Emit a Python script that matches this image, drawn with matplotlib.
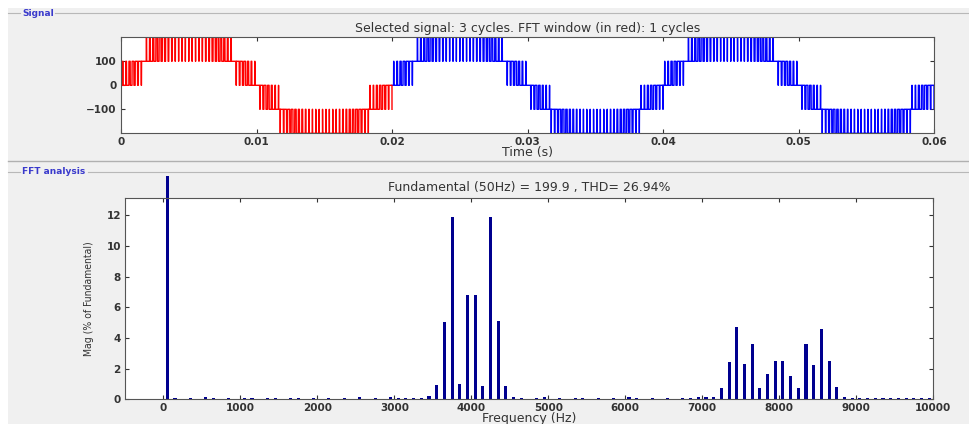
import numpy as np
import matplotlib.pyplot as plt
from matplotlib.patches import Rectangle

# inverter output parameters
f_fund = 50.0          # fundamental (Hz)
v_fund = 199.9         # fundamental amplitude
v_step = 100.0         # voltage of one level
f_carrier = 4000.0     # carrier frequency (Hz)
t_end = 0.06           # 3 cycles
t_window = 0.02        # FFT window, 1 cycle

# harmonic spectrum, % of fundamental
fund_mag = 100.0
band1_freq = [3450, 3550, 3650, 3750, 3850, 3950, 4050, 4150, 4250, 4350, 4450, 4550]
band1_mag = [0.20, 0.95, 5.07, 11.9, 1.00, 6.82, 6.82, 0.89, 11.9, 5.10, 0.89, 0.15]
band2_freq = [7150, 7250, 7350, 7450, 7550, 7650, 7750, 7850, 7950,
              8050, 8150, 8250, 8350, 8450, 8550, 8650, 8750, 8850]
band2_mag = [0.15, 0.76, 2.46, 4.70, 2.33, 3.63, 0.76, 1.63, 2.48,
             2.48, 1.50, 0.75, 3.63, 2.22, 4.60, 2.52, 0.82, 0.15]
low_freq = list(range(150, 3450, 100))
low_mag = [0.06, 0.05, 0.06, 0.05, 0.12, 0.06, 0.05, 0.10, 0.05, 0.06, 0.10,
           0.05, 0.06, 0.08, 0.05, 0.10, 0.06, 0.05, 0.06, 0.05, 0.06, 0.05,
           0.06, 0.05, 0.12, 0.05, 0.06, 0.05, 0.15, 0.06, 0.08, 0.10, 0.08]
mid_freq = list(range(4650, 7150, 100))
mid_mag = [0.10, 0.05, 0.08, 0.12, 0.05, 0.06, 0.05, 0.06, 0.08, 0.05, 0.06,
           0.05, 0.06, 0.05, 0.15, 0.10, 0.05, 0.08, 0.05, 0.06, 0.05, 0.06,
           0.10, 0.12, 0.15]
high_freq = list(range(8950, 10000, 100))
high_mag = [0.10, 0.10, 0.06, 0.08, 0.08, 0.08, 0.08, 0.08, 0.08, 0.06, 0.06]

freqs = np.array([f_fund] + low_freq + band1_freq + mid_freq + band2_freq + high_freq, dtype=float)
mags = np.array([fund_mag] + low_mag + band1_mag + mid_mag + band2_mag + high_mag)

# five-level output, level-shifted carrier PWM
t = np.linspace(0, t_end, 60001)
ref = v_fund / v_step * np.sin(2 * np.pi * f_fund * t)
tri = np.abs(((t * f_carrier) % 1.0) * 2 - 1)
levels = np.zeros_like(t)
for k in (-2, -1, 0, 1):
    levels += (ref > k + tri)
v = v_step * (levels - 2)

bg = '#f0f0f0'
txt = '#333333'
plt.rcParams['font.family'] = 'DejaVu Sans'
plt.rcParams['font.size'] = 7

fig = plt.figure(figsize=(9.69, 4.24), dpi=100, facecolor=bg)

# white margins and group box frames
fig.patches.append(Rectangle((0, 1 - 8 / 424), 1, 8 / 424, transform=fig.transFigure,
                             facecolor='white', edgecolor='none', zorder=0))
fig.patches.append(Rectangle((0, 0), 8 / 969, 1, transform=fig.transFigure,
                             facecolor='white', edgecolor='none', zorder=0))
fig.add_artist(plt.Line2D([8 / 969, 20 / 969], [1 - 13 / 424] * 2, color='#b8b8b8', lw=0.8))
fig.add_artist(plt.Line2D([55 / 969, 1], [1 - 13 / 424] * 2, color='#b8b8b8', lw=0.8))
fig.text(22 / 969, 1 - 13 / 424, 'Signal', color='#3a3acc', fontsize=6.5,
         fontweight='bold', va='center')
fig.add_artist(plt.Line2D([8 / 969, 1], [1 - 160.5 / 424] * 2, color='#b0b0b0', lw=1.0))
fig.add_artist(plt.Line2D([8 / 969, 20 / 969], [1 - 171.5 / 424] * 2, color='#b8b8b8', lw=0.8))
fig.add_artist(plt.Line2D([88 / 969, 1], [1 - 171.5 / 424] * 2, color='#b8b8b8', lw=0.8))
fig.text(22 / 969, 1 - 171.5 / 424, 'FFT analysis', color='#3a3acc', fontsize=6.5,
         fontweight='bold', va='center')

# signal axes
ax1 = fig.add_axes([121 / 969, 1 - 133.3 / 424, 813 / 969, 96 / 424])
win = t <= t_window
ax1.plot(t[~win], v[~win], color='#0000ff', lw=1.0)
ax1.plot(t[win], v[win], color='#ff0000', lw=1.0)
ax1.set_xlim(0, t_end)
ax1.set_ylim(-200, 200)
ax1.set_xticks([0, 0.01, 0.02, 0.03, 0.04, 0.05, 0.06])
ax1.set_xticklabels(['0', '0.01', '0.02', '0.03', '0.04', '0.05', '0.06'])
ax1.set_yticks([-100, 0, 100])
ax1.set_title('Selected signal: 3 cycles. FFT window (in red): 1 cycles',
              fontsize=9, color=txt, pad=4)
ax1.set_xlabel('Time (s)', fontsize=9, color=txt, labelpad=-1)

# FFT axes
ax2 = fig.add_axes([125 / 969, 1 - 399.3 / 424, 808 / 969, 201 / 424])
bars = ax2.bar(freqs, mags, width=40, color='#00008f', edgecolor='none')
clip = Rectangle((0, 0), 1, 1.11, transform=ax2.transAxes)
for b in bars:
    b.set_clip_path(clip)
ax2.set_xlim(-500, 10000)
ax2.set_ylim(0, 13.1)
ax2.set_xticks(range(0, 10001, 1000))
ax2.set_yticks(range(0, 13, 2))
ax2.set_title('Fundamental (50Hz) = 199.9 , THD= 26.94%', fontsize=9, color=txt, pad=5)
ax2.set_xlabel('Frequency (Hz)', fontsize=9, color=txt, labelpad=-1)
ax2.set_ylabel('Mag (% of Fundamental)', fontsize=7.5, color=txt, labelpad=9,
               family=['Liberation Sans Narrow', 'DejaVu Sans'], fontstretch='condensed')

for ax in (ax1, ax2):
    ax.set_facecolor('white')
    ax.tick_params(direction='in', top=True, right=True, length=3, width=0.8,
                   colors=txt, labelsize=7.5, pad=3)
    for lab in ax.get_xticklabels() + ax.get_yticklabels():
        lab.set_fontweight('bold')
    for s in ax.spines.values():
        s.set_color('#555555')
        s.set_linewidth(0.8)

fig.savefig('out.png', dpi=100, facecolor=bg)
